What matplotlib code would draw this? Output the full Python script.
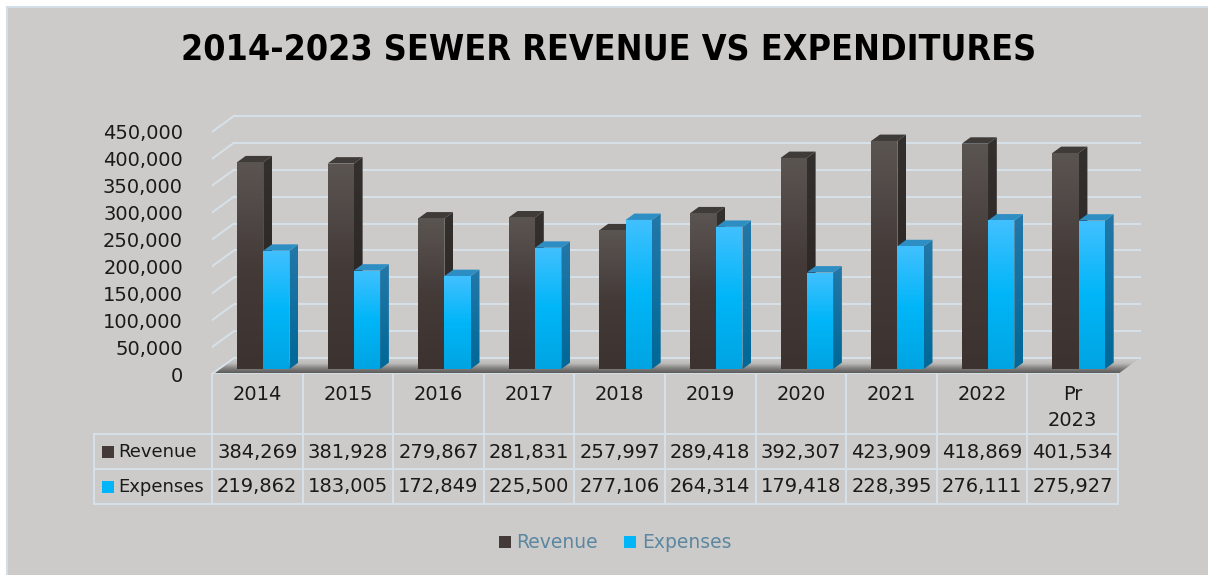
import numpy as np
import matplotlib
matplotlib.use("Agg")
import matplotlib.pyplot as plt
from matplotlib import font_manager as fm
from matplotlib.patches import Polygon, Rectangle, Patch
from matplotlib.lines import Line2D
from matplotlib.colors import LinearSegmentedColormap

# data
years = ["2014", "2015", "2016", "2017", "2018", "2019", "2020", "2021", "2022", "Pr\n2023"]
series = ["Revenue", "Expenses"]
revenue = [384269, 381928, 279867, 281831, 257997, 289418, 392307, 423909, 418869, 401534]
expenses = [219862, 183005, 172849, 225500, 277106, 264314, 179418, 228395, 276111, 275927]
yticks = [0, 50000, 100000, 150000, 200000, 250000, 300000, 350000, 400000, 450000]
title = "2014-2023 SEWER REVENUE VS EXPENDITURES"

# colours
BG = "#CDCBC9"
GRID = "#D6E1E9"
REV_FRONT = ["#3C3331", "#443B39", "#5B5552"]      # bottom -> top
REV_SIDE = ["#282321", "#34302E"]
REV_TOP = "#3F3B39"
EXP_FRONT = ["#00A4E2", "#00B6F8", "#42C0FF"]
EXP_SIDE = ["#006897", "#2378A8"]
EXP_TOP = "#2D8EC3"
LEGEND_TXT = "#5B87A1"

# pick a narrow bold face for the title if one is there
names = {(f.name, f.stretch) for f in fm.fontManager.ttflist}
title_kw = {"family": "Liberation Sans", "fontweight": "bold"}
if any(n == "Liberation Sans Narrow" for n, s in names):
    title_kw = {"family": "Liberation Sans Narrow", "fontweight": "bold"}
elif ("DejaVu Sans", "condensed") in names:
    title_kw = {"family": "DejaVu Sans", "fontweight": "bold", "fontstretch": "condensed"}

W, H = 1208, 575
fig = plt.figure(figsize=(W / 100, H / 100), dpi=100)
fig.patch.set_facecolor("white")


def fx(x):
    return x / W


def fy(y):
    return 1 - y / H


# chart area runs off the right and bottom edges
fig.add_artist(Rectangle((fx(7), -0.05), 1.05 - fx(7), fy(7) + 0.05, transform=fig.transFigure,
                         facecolor=BG, edgecolor="#D2DDE5", lw=1.5, zorder=0))

# plot area in pixels
AX_L, AX_R, AX_B, AX_T = 212, 1150, 374, 100
CAT_PX = 90.6
VAL_PX = 26.9 / 50000

ax = fig.add_axes([fx(AX_L), fy(AX_B), (AX_R - AX_L) / W, (AX_B - AX_T) / H])
ax.patch.set_visible(False)
for s in ax.spines.values():
    s.set_visible(False)
xmax = (AX_R - AX_L) / CAT_PX
ymax = (AX_B - AX_T) / VAL_PX

n = len(years)
DX = 22 / CAT_PX
DY = 16 / VAL_PX
back_right = (1141 - AX_L) / CAT_PX


def grad_fill(verts, colors, z):
    poly = Polygon(verts, closed=True, facecolor="none", edgecolor="none")
    ax.add_patch(poly)
    xs = [v[0] for v in verts]
    ys = [v[1] for v in verts]
    cmap = LinearSegmentedColormap.from_list("g", colors)
    im = ax.imshow(np.linspace(0, 1, 256).reshape(-1, 1), cmap=cmap,
                   extent=[min(xs), max(xs), min(ys), max(ys)], origin="lower",
                   aspect="auto", zorder=z, interpolation="bilinear")
    im.set_clip_path(poly)


# floor
grad_fill([(0, 0), (n, 0), (n + DX, DY), (DX, DY)],
          ["#555351", "#7E7C7A", "#BDBBB9", BG], 1)

# walls gridlines
for t in yticks:
    ax.plot([DX, back_right], [t + DY, t + DY], color=GRID, lw=1.4, zorder=2,
            solid_capstyle="butt")
    ax.plot([0, DX], [t, t + DY], color=GRID, lw=1.4, zorder=2)
ax.plot([0, n], [0, 0], color=GRID, lw=1.4, zorder=2)

# bars
bw = 0.29
gc = 0.49
fdx, fdy = 0.31 * DX, 0.31 * DY
bdx, bdy = 0.40 * DX, 0.40 * DY
z = 3
for i in range(n):
    for k, vals in enumerate([revenue, expenses]):
        v = vals[i]
        x0 = i + gc - bw + k * bw + fdx
        x1 = x0 + bw
        y0 = fdy
        y1 = v + fdy
        front, side, top = ((REV_FRONT, REV_SIDE, REV_TOP) if k == 0
                            else (EXP_FRONT, EXP_SIDE, EXP_TOP))
        grad_fill([(x1, y0), (x1 + bdx, y0 + bdy), (x1 + bdx, y1 + bdy), (x1, y1)], side, z)
        ax.add_patch(Polygon([(x0, y1), (x1, y1), (x1 + bdx, y1 + bdy), (x0 + bdx, y1 + bdy)],
                             closed=True, facecolor=top, edgecolor="none", zorder=z + 0.01))
        grad_fill([(x0, y0), (x1, y0), (x1, y1), (x0, y1)], front, z + 0.02)
        z += 0.1

ax.set_xlim(0, xmax)
ax.set_ylim(0, ymax)
ax.set_xticks([])
ax.set_yticks(yticks)
ax.set_yticklabels([f"{t:,}" for t in yticks], fontsize=14, color="#1A1A1A")
ax.tick_params(axis="y", length=0, pad=29 * 0.72)

# data table
ROW_TOP, HEAD_BOT, REV_BOT, EXP_BOT = 374, 434, 469, 504
TBL_L = 94
col_x = [AX_L + j * CAT_PX for j in range(n + 1)]


def hline(y, x0, x1):
    fig.add_artist(Line2D([fx(x0), fx(x1)], [fy(y), fy(y)], color=GRID, lw=1.4,
                          transform=fig.transFigure))


def vline(x, y0, y1):
    fig.add_artist(Line2D([fx(x), fx(x)], [fy(y0), fy(y1)], color=GRID, lw=1.4,
                          transform=fig.transFigure))


for y in [HEAD_BOT, REV_BOT, EXP_BOT]:
    hline(y, TBL_L, col_x[-1])
for x in col_x:
    vline(x, ROW_TOP, EXP_BOT)
vline(TBL_L, HEAD_BOT, EXP_BOT)

for j, lab in enumerate(years):
    cx = (col_x[j] + col_x[j + 1]) / 2
    for m, line in enumerate(lab.split("\n")):
        fig.text(fx(cx), fy(394 + m * 27), line, ha="center", va="center",
                 fontsize=14, color="#1A1A1A")
    fig.text(fx(cx), fy(452), f"{revenue[j]:,}", ha="center", va="center",
             fontsize=14, color="#1A1A1A")
    fig.text(fx(cx), fy(487), f"{expenses[j]:,}", ha="center", va="center",
             fontsize=14, color="#1A1A1A")

for r, (name, col, yc) in enumerate([(series[0], REV_FRONT[1], 452),
                                     (series[1], EXP_FRONT[1], 487)]):
    fig.add_artist(Rectangle((fx(102), fy(yc + 6)), 12 / W, 12 / H,
                             transform=fig.transFigure, facecolor=col, edgecolor="none"))
    fig.text(fx(118), fy(yc), name, ha="left", va="center", fontsize=13,
             color="#1A1A1A")

# title, sized to the width it takes in the picture
t = fig.text(fx(609), fy(49), title, ha="center", va="center", fontsize=30,
             color="black", **title_kw)
fig.canvas.draw()
w = t.get_window_extent().width
t.set_fontsize(30 * 852 / w)

# legend
handles = [Patch(facecolor=REV_FRONT[1]), Patch(facecolor=EXP_FRONT[1])]
fig.legend(handles, series, loc="center", bbox_to_anchor=(fx(615), fy(543)), ncol=2,
           frameon=False, fontsize=13.5, handlelength=0.65, handleheight=0.65,
           handletextpad=0.3, columnspacing=1.4, labelcolor=LEGEND_TXT)

fig.savefig("out.png", dpi=100, facecolor=fig.get_facecolor())
